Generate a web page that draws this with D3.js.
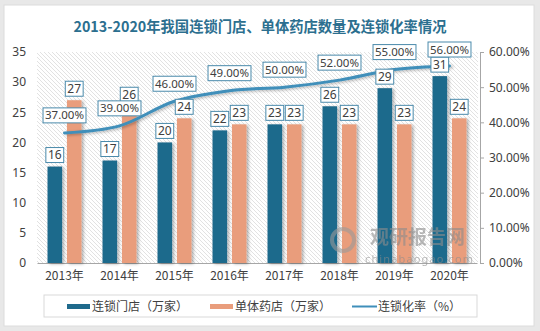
<!DOCTYPE html>
<html>
<head>
<meta charset="utf-8">
<script src="https://cdn.jsdelivr.net/npm/d3@7"></script>
<style>
  html, body { margin: 0; padding: 0; background: #e8e8e8; }
  svg { display: block; }
  text { font-family: "Noto Sans", "Noto Sans CJK SC", sans-serif; fill: #404040; }
</style>
</head>
<body>
<div id="chart"></div>
<script>
const years = ["2013年", "2014年", "2015年", "2016年", "2017年", "2018年", "2019年", "2020年"];
const chainStores = [16, 17, 20, 22, 23, 26, 29, 31];
const singleStores = [27, 26, 24, 23, 23, 23, 23, 24];
const chainRate = [0.37, 0.39, 0.46, 0.49, 0.50, 0.52, 0.55, 0.56];
const leftTicks = [0, 5, 10, 15, 20, 25, 30, 35];
const rightTicks = [0, 0.1, 0.2, 0.3, 0.4, 0.5, 0.6];
const seriesNames = ["连锁门店（万家）", "单体药店（万家）", "连锁化率（%）"];

const W = 540, H = 331;
const colDark = "#1f6a8c", colOrange = "#e99d7c", colLine = "#3f8fba", colBorder = "#4a8aab";

const svg = d3.select("#chart").append("svg").attr("width", W).attr("height", H);
const defs = svg.append("defs");

const hatch = defs.append("pattern").attr("id", "hatch")
  .attr("patternUnits", "userSpaceOnUse").attr("width", 4).attr("height", 4);
hatch.append("rect").attr("width", 4).attr("height", 4).attr("fill", "#fff");
hatch.append("path").attr("d", "M-1,-1 L5,5 M-1,3 L1,5 M3,-1 L5,1")
  .attr("stroke", "#e2e2e2").attr("stroke-width", 1);

const shadow = defs.append("filter").attr("id", "shadow")
  .attr("x", "-30%").attr("y", "-10%").attr("width", "170%").attr("height", "130%");
shadow.append("feDropShadow").attr("dx", 2).attr("dy", 1).attr("stdDeviation", 1.5)
  .attr("flood-color", "#000").attr("flood-opacity", 0.3);

// white panel
svg.append("rect").attr("x", 4).attr("y", 5).attr("width", 530).attr("height", 321)
  .attr("fill", "#fff").attr("stroke", "#dcdcdc");

svg.append("text").attr("x", 260).attr("y", 32).attr("text-anchor", "middle")
  .style("font-family", "'Noto Sans CJK SC', sans-serif")
  .style("font-size", "14.3px").style("font-weight", "bold").style("fill", "#2c6f8f")
  .text("2013-2020年我国连锁门店、单体药店数量及连锁化率情况");

const x = d3.scaleBand().domain(years).range([37, 477]);
const xs = d3.scaleBand().domain([0, 1]).range([-17, 17]).paddingInner(0.25);
const yL = d3.scaleLinear().domain([0, 35]).range([263, 52]);
const yR = d3.scaleLinear().domain([0, 0.6]).range([263, 52]);

svg.append("rect").attr("x", 37).attr("y", 52).attr("width", 441).attr("height", 211)
  .attr("fill", "url(#hatch)");

// left axis (labels only)
const gL = svg.append("g").attr("transform", "translate(26,0)")
  .call(d3.axisLeft(yL).tickValues(leftTicks).tickSize(0).tickPadding(0));
gL.select(".domain").remove();
gL.selectAll("text").style("font-size", "12px").attr("fill", "#404040");

// right axis
const gR = svg.append("g").attr("transform", "translate(480,0)")
  .call(d3.axisRight(yR).tickValues(rightTicks).tickSize(4).tickSizeOuter(0).tickPadding(5)
    .tickFormat(d3.format(".2%")));
gR.select(".domain").attr("stroke", "#a6a6a6");
gR.selectAll(".tick line").attr("stroke", "#a6a6a6");
gR.selectAll("text").style("font-size", "12px").attr("fill", "#404040");

// bottom axis
const gB = svg.append("g").attr("transform", "translate(0,263)")
  .call(d3.axisBottom(x).tickSize(0).tickPadding(8));
gB.select(".domain").attr("stroke", "#a6a6a6");
gB.selectAll("text").style("font-size", "12px").style("font-family", "'Noto Sans CJK SC', sans-serif")
  .attr("fill", "#404040");

const barData = years.flatMap((y, i) => [
  { year: y, s: 0, v: chainStores[i], color: colDark },
  { year: y, s: 1, v: singleStores[i], color: colOrange }
]);

const cx = d => x(d.year) + x.bandwidth() / 2;

svg.append("g").selectAll("rect").data(barData).join("rect")
  .attr("x", d => cx(d) + xs(d.s))
  .attr("y", d => yL(d.v))
  .attr("width", xs.bandwidth())
  .attr("height", d => yL(0) - yL(d.v))
  .attr("fill", d => d.color)
  .attr("filter", "url(#shadow)");

// watermark
const wm = svg.append("g").attr("opacity", 0.6);
wm.append("circle").attr("cx", 343).attr("cy", 240).attr("r", 11)
  .attr("fill", "none").attr("stroke", "#9a9a9a").attr("stroke-width", 4);
wm.append("text").attr("x", 370).attr("y", 244).style("font-size", "19px").style("font-weight", "bold")
  .style("font-family", "'Noto Sans CJK SC', sans-serif").style("fill", "#8c8c8c")
  .text("观研报告网");
wm.append("text").attr("x", 365).attr("y", 263).style("font-size", "11px")
  .attr("textLength", 108).style("fill", "#8c8c8c").text("chinabaogao.com");

// rate line
const linePts = years.map((y, i) => ({ year: y, v: chainRate[i] }));
const line = d3.line().x(d => cx(d)).y(d => yR(d.v)).curve(d3.curveCatmullRom.alpha(0.5));
svg.append("path").datum(linePts).attr("d", line)
  .attr("fill", "none").attr("stroke", colLine).attr("stroke-width", 3)
  .attr("stroke-linecap", "round").attr("filter", "url(#shadow)");

function boxLabel(g, xc, yBottom, txt, size) {
  const t = g.append("text").attr("x", xc).attr("text-anchor", "middle")
    .style("font-size", size + "px").text(txt);
  const bb = t.node().getBBox();
  const w = bb.width + 4, h = 15;
  const top = Math.max(yBottom - h, 42);
  g.insert("rect", () => t.node())
    .attr("x", xc - w / 2).attr("y", top).attr("width", w).attr("height", h)
    .attr("fill", "#fff").attr("stroke", colBorder).attr("stroke-width", 1);
  t.attr("y", top + 11.5);
}

const gLab = svg.append("g");
barData.forEach(d => boxLabel(gLab, cx(d) + xs(d.s) + xs.bandwidth() / 2, yL(d.v) - 4, d.v, 12));
linePts.forEach(d => boxLabel(gLab, cx(d), yR(d.v) - 10, d3.format(".2%")(d.v), 11.5));

// legend
const lg = svg.append("g");
lg.append("rect").attr("x", 44).attr("y", 295).attr("width", 433).attr("height", 22)
  .attr("fill", "#fff").attr("stroke", "#d9d9d9");
const legendItems = [
  { name: seriesNames[0], x: 67, type: "bar", color: colDark },
  { name: seriesNames[1], x: 210, type: "bar", color: colOrange },
  { name: seriesNames[2], x: 352, type: "line", color: colLine }
];
legendItems.forEach(it => {
  if (it.type === "bar") {
    lg.append("rect").attr("x", it.x).attr("y", 304).attr("width", 23).attr("height", 5).attr("fill", it.color);
  } else {
    lg.append("line").attr("x1", it.x).attr("x2", it.x + 25).attr("y1", 306.5).attr("y2", 306.5)
      .attr("stroke", it.color).attr("stroke-width", 2);
  }
  lg.append("text").attr("x", it.x + (it.type === "bar" ? 25 : 26)).attr("y", 311)
    .style("font-size", "12px").style("font-family", "'Noto Sans CJK SC', sans-serif")
    .text(it.name);
});
</script>
</body>
</html>
